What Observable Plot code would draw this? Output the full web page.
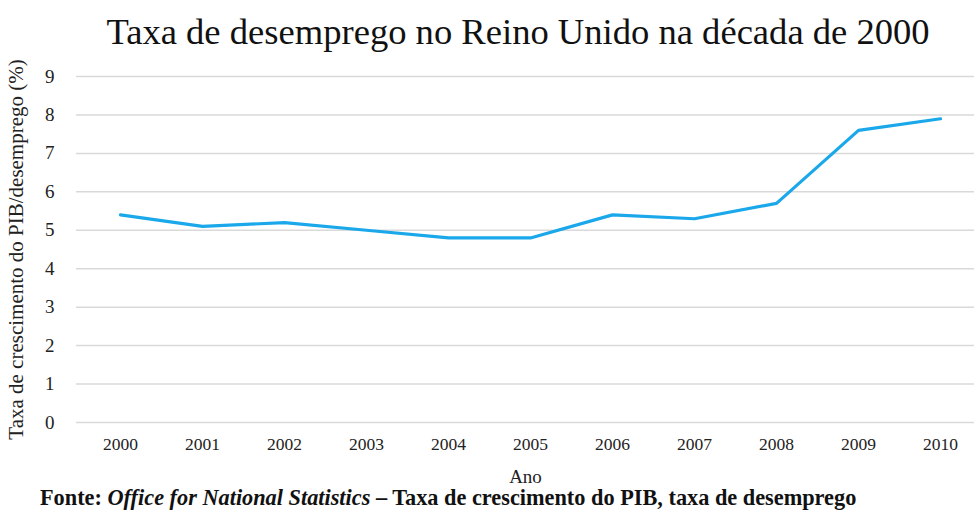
<!DOCTYPE html>
<html><head><meta charset="utf-8">
<script src="https://cdn.jsdelivr.net/npm/d3@7"></script>
<script src="https://cdn.jsdelivr.net/npm/@observablehq/plot@0.6"></script>
<style>
body{margin:0;background:#fff;font-family:"Liberation Serif","Times New Roman",serif;width:974px;height:511px;overflow:hidden;position:relative}
#title{height:60px;line-height:64px;font-size:36.6px;text-align:center;padding-left:62px;color:#111;white-space:nowrap}
#chart svg{display:block}
#caption{position:absolute;left:40px;top:486px;font-size:22.3px;font-weight:bold;line-height:24px;color:#111;white-space:nowrap}
svg text{font-family:"Liberation Serif","Times New Roman",serif !important}
</style></head><body>
<div id="title">Taxa de desemprego no Reino Unido na década de 2000</div>
<div id="chart"></div>
<div id="caption">Fonte: <i>Office for National Statistics</i> – Taxa de crescimento do PIB, taxa de desemprego</div>
<script>
const years = ["2000","2001","2002","2003","2004","2005","2006","2007","2008","2009","2010"];
const rates = [5.4,5.1,5.2,5.0,4.8,4.8,5.4,5.3,5.7,7.6,7.9];
const yTicks = [0,1,2,3,4,5,6,7,8,9];
const data = years.map((y,i)=>({year:y, rate:rates[i]}));
const chart = Plot.plot({
  width: 974, height: 426,
  marginTop: 16, marginBottom: 64, marginLeft: 76, marginRight: 0,
  style:{fontFamily:"Liberation Serif, serif", fontSize:"16px", color:"#222", background:"#fff"},
  x:{type:"point", domain:years, range:[117,942], padding:0},
  y:{domain:[0,9]},
  marks:[
    Plot.ruleY(yTicks,{stroke:"#d9d9d9", strokeWidth:1.5}),
    Plot.axisY({ticks:yTicks, tickSize:0, tickPadding:22, fontSize:19, label:"Taxa de crescimento do PIB/desemprego (%)", labelAnchor:"center", labelOffset:68, labelArrow:"none"}),
    Plot.axisX({tickSize:0, tickPadding:15, fontSize:17.5, label:"Ano", labelAnchor:"center", labelOffset:60, labelArrow:"none"}),
    Plot.lineY(data,{x:"year", y:"rate", stroke:"#1AA8EB", strokeWidth:3.2})
  ]
});
chart.querySelectorAll("g[aria-label='y-axis label'] text").forEach(t=>t.setAttribute("font-size","21"));
chart.querySelectorAll("g[aria-label='x-axis label'] text").forEach(t=>t.setAttribute("font-size","19"));
document.getElementById("chart").appendChild(chart);
</script>
</body></html>
